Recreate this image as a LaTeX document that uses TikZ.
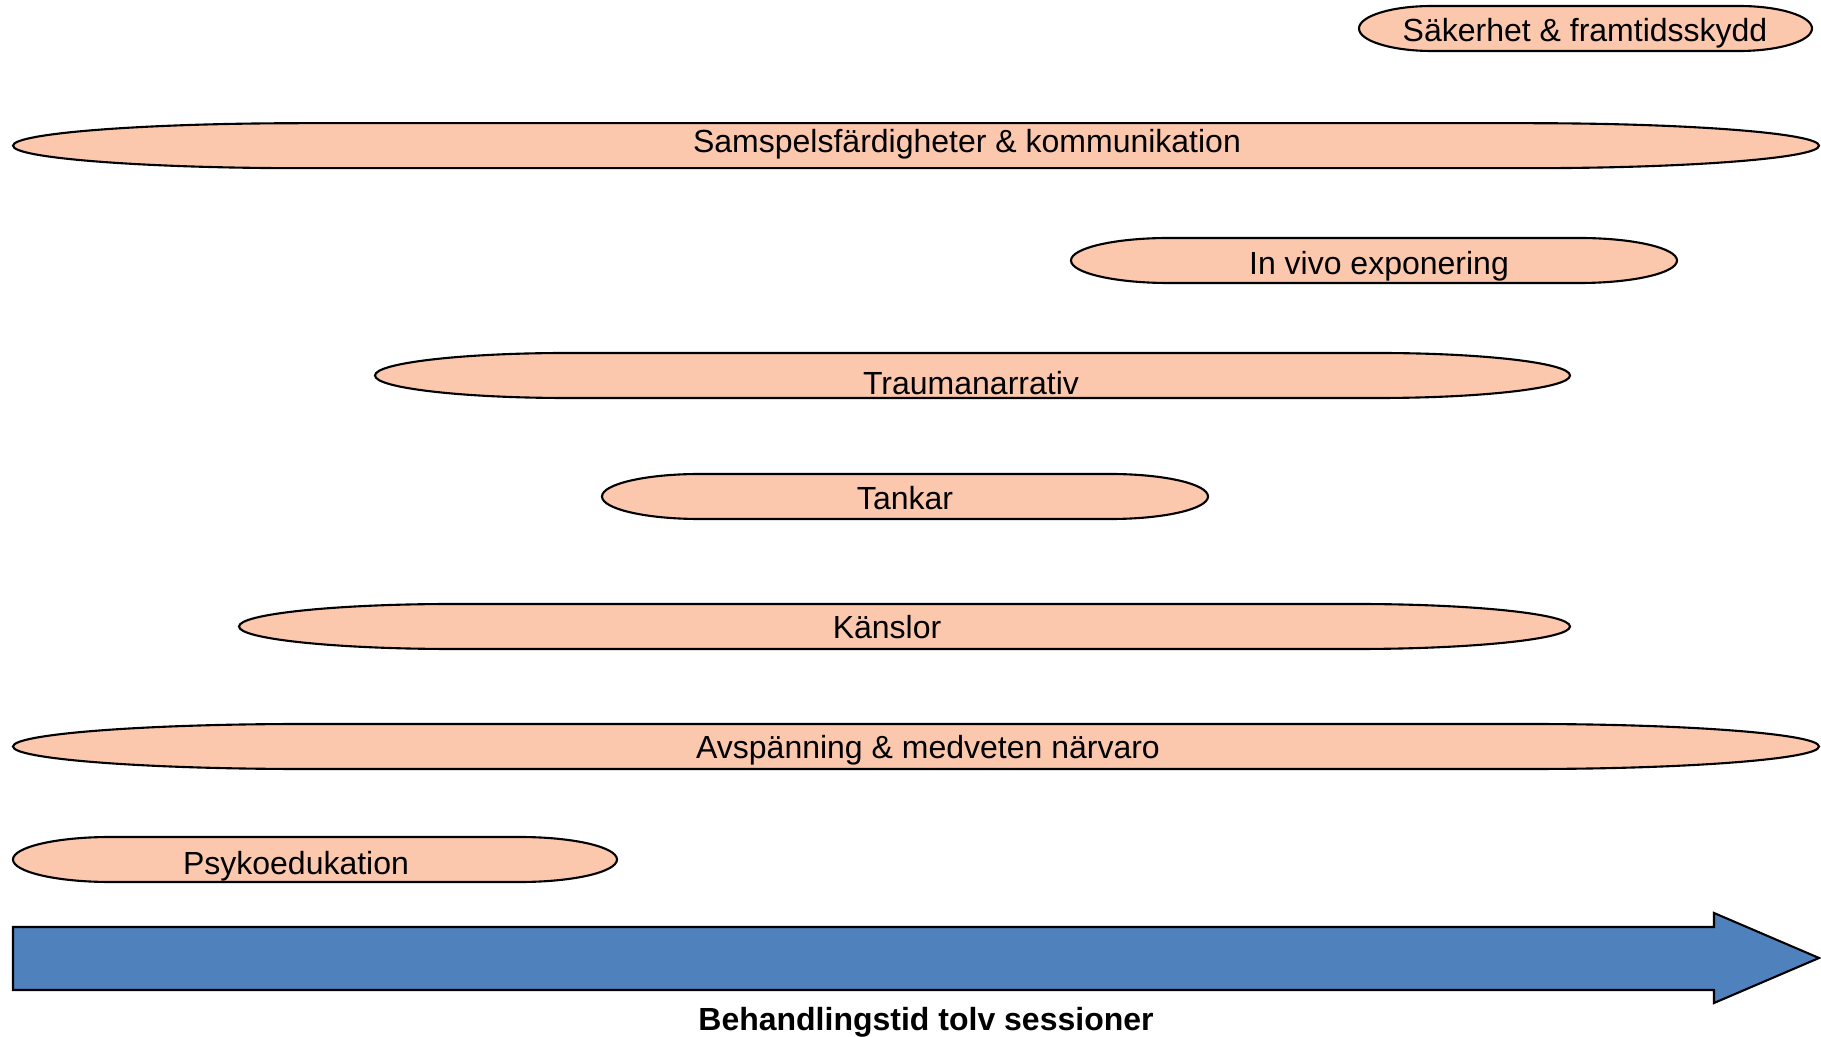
\documentclass[tikz,border=0pt]{standalone}
\usepackage{fontspec}
\setmainfont{Liberation Sans}
\definecolor{pillfill}{RGB}{251,200,174}
\definecolor{arrowblue}{RGB}{79,129,189}
\tikzset{
  pillstyle/.style={draw=black, fill=pillfill, line width=0.6pt},
  lbl/.style={inner sep=0pt, text height=0.72em, text depth=0pt, font=\fontsize{9.1}{11}\selectfont},
  arrowstyle/.style={draw=black, fill=arrowblue, line width=0.6pt, line join=miter},
}
% \pillshape{name}{x0}{x1}{yc}{text}{tx}{ty}
\newcommand{\pillshape}[7]{%
  \pgfmathsetmacro\pillr{0.1609*(#3-#2)}%
  \draw[pillstyle] (#2+\pillr,#4+22.5) -- (#3-\pillr,#4+22.5)
     arc[start angle=90,end angle=-90,x radius=\pillr,y radius=22.5]
     -- (#2+\pillr,#4-22.5)
     arc[start angle=270,end angle=90,x radius=\pillr,y radius=22.5] -- cycle;
  \node[lbl] (#1) at (#6,#7) {#5};
}
\begin{document}
\begin{tikzpicture}[x=0.01cm,y=0.01cm]
\useasboundingbox (0,0) rectangle (1821,1036);
\pillshape{sak}{1359}{1812}{1007.5}{Säkerhet \& framtidsskydd}{1585}{1007}
\pillshape{sam}{13}{1819}{890.3}{Samspelsfärdigheter \& kommunikation}{967}{896}
\pillshape{viv}{1071}{1677}{775.5}{In vivo exponering}{1379}{774}
\pillshape{tra}{375}{1570}{660.5}{Traumanarrativ}{971}{654}
\pillshape{tan}{602}{1208}{539.5}{Tankar}{905}{539}
\pillshape{kan}{239}{1570}{409.5}{Känslor}{887}{410}
\pillshape{avs}{13}{1819}{289.5}{Avspänning \& medveten närvaro}{928}{290}
\pillshape{psy}{13}{617}{176.5}{Psykoedukation}{296}{174}
% timeline arrow
\draw[arrowstyle] (13,109) -- (1714,109) -- (1714,123) -- (1819,78) -- (1714,33) -- (1714,46) -- (13,46) -- cycle;
\node[lbl, font=\fontsize{9.1}{11}\selectfont\bfseries] (tid) at (926,18) {Behandlingstid tolv sessioner};
\end{tikzpicture}
\end{document}
